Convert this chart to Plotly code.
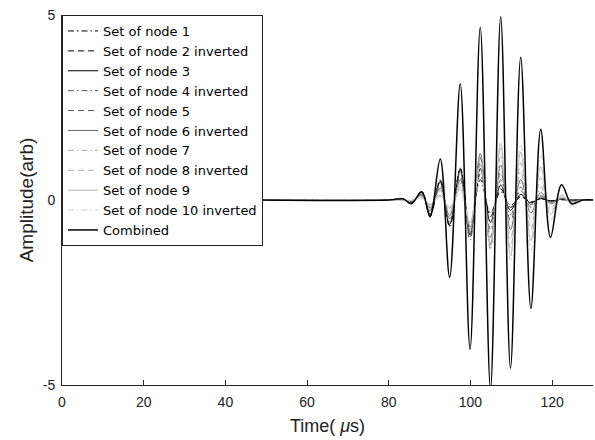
import plotly.graph_objects as go

# Time samples (extrema of the wave packets), microseconds
times = [0, 40, 80, 83.5, 85.5, 88.1, 90.1, 92.6, 94.9, 97.5, 99.9, 102.4, 104.9,
         107.4, 109.8, 112.3, 114.8, 117.2, 119.6, 122.3, 124.8, 127.5, 130]

node1 = [0, 0, 0, 0.03, -0.10, 0.23, -0.45, 0.54, -0.72, 0.86, -0.75, 0.55, -0.35, 0.22, -0.14, 0.08, -0.05, 0.03, -0.02, 0.01, 0.0, 0, 0]
node2 = [0, 0, 0, 0.03, -0.09, 0.22, -0.42, 0.52, -0.70, 0.84, -0.85, 0.70, -0.45, 0.30, -0.20, 0.10, -0.05, 0.03, -0.02, 0.01, 0.0, 0, 0]
node3 = [0, 0, 0, 0.02, -0.08, 0.20, -0.38, 0.50, -0.66, 0.80, -0.95, 0.85, -0.60, 0.40, -0.28, 0.15, -0.08, 0.05, -0.03, 0.02, -0.01, 0, 0]
node4 = [0, 0, 0, 0.02, -0.06, 0.18, -0.32, 0.45, -0.60, 0.75, -1.08, 1.00, -0.80, 0.55, -0.40, 0.25, -0.12, 0.08, -0.04, 0.02, -0.01, 0, 0]
node5 = [0, 0, 0, 0.01, -0.05, 0.15, -0.28, 0.40, -0.50, 0.65, -1.00, 1.15, -1.00, 0.75, -0.55, 0.35, -0.20, 0.12, -0.06, 0.03, -0.02, 0, 0]
node6 = [0, 0, 0, 0.01, -0.04, 0.12, -0.22, 0.32, -0.42, 0.55, -0.90, 1.26, -1.20, 0.95, -0.80, 0.55, -0.35, 0.20, -0.10, 0.05, -0.03, 0, 0]
node7 = [0, 0, 0, 0.0, -0.03, 0.10, -0.18, 0.25, -0.35, 0.45, -0.80, 1.20, -1.35, 1.20, -1.05, 0.75, -0.55, 0.35, -0.20, 0.08, -0.05, 0, 0]
node8 = [0, 0, 0, 0.0, -0.02, 0.08, -0.14, 0.18, -0.28, 0.38, -0.70, 1.10, -1.30, 1.40, -1.30, 1.00, -0.80, 0.60, -0.30, 0.10, -0.08, 0, 0]
node9 = [0, 0, 0, 0.0, -0.01, 0.06, -0.12, 0.12, -0.22, 0.30, -0.62, 0.95, -1.25, 1.53, -1.50, 1.30, -1.10, 0.90, -0.40, 0.12, -0.12, 0, 0]
node10 = [0, 0, 0, 0.0, -0.01, 0.05, -0.10, 0.08, -0.18, 0.20, -0.60, 0.80, -1.15, 1.50, -1.62, 1.50, -1.40, 1.20, -0.55, 0.15, -0.15, 0, 0]
combined = [0, 0, 0, 0.03, -0.10, 0.22, -0.45, 1.11, -2.09, 3.14, -4.04, 4.67, -5.10, 4.95, -4.55, 3.86, -2.93, 1.91, -1.01, 0.41, -0.10, 0, 0]

series_names = ["Set of node 1", "Set of node 2 inverted", "Set of node 3",
                "Set of node 4 inverted", "Set of node 5", "Set of node 6 inverted",
                "Set of node 7", "Set of node 8 inverted", "Set of node 9",
                "Set of node 10 inverted", "Combined"]
series_values = [node1, node2, node3, node4, node5, node6, node7, node8, node9, node10, combined]

x_tick_vals = [0, 20, 40, 60, 80, 100, 120]
x_tick_text = ["0", "20", "40", "60", "80", "100", "120"]
y_tick_vals = [-5, 0, 5]
y_tick_text = ["-5", "0", "5"]

DASHDOT = "6px,3px,1.5px,3px"
DASH = "6px,4px"
styles = [
    ("#000000", DASHDOT, 1.0),
    ("#000000", DASH, 1.0),
    ("#000000", "solid", 1.0),
    ("#555555", DASHDOT, 1.0),
    ("#555555", DASH, 1.0),
    ("#666666", "solid", 1.0),
    ("#aaaaaa", DASHDOT, 1.0),
    ("#aaaaaa", DASH, 1.0),
    ("#b5b5b5", "solid", 1.0),
    ("#cccccc", DASHDOT, 1.0),
    ("#000000", "solid", 1.5),
]

fig = go.Figure()
for name, vals, (col, dash, w) in zip(series_names, series_values, styles):
    fig.add_trace(go.Scatter(
        x=times, y=vals, mode="lines", name=name,
        line=dict(color=col, dash=dash, width=w, shape="spline", smoothing=1.0),
    ))

FONT = "Liberation Sans, Arial, Helvetica, sans-serif"
fig.update_layout(
    width=595, height=440,
    margin=dict(l=62, r=2, t=15, b=55),
    paper_bgcolor="white", plot_bgcolor="white",
    font=dict(family=FONT, size=14, color="#222222"),
    showlegend=True,
    legend=dict(x=0, y=1, xanchor="left", yanchor="top",
                bgcolor="white", bordercolor="#222222", borderwidth=1,
                font=dict(family="DejaVu Sans, sans-serif", size=13, color="#000000"),
                tracegroupgap=0, itemwidth=30),
    xaxis=dict(range=[0, 130], tickmode="array", tickvals=x_tick_vals, ticktext=x_tick_text,
               showline=True, linecolor="#262626", linewidth=1, mirror=False,
               ticks="inside", ticklen=5, tickcolor="#262626", ticklabelstandoff=4,
               showgrid=False, zeroline=False,
               title=dict(text="Time( <i>μ</i>s)", font=dict(size=18), standoff=10)),
    yaxis=dict(range=[-5, 5], tickmode="array", tickvals=y_tick_vals, ticktext=y_tick_text,
               showline=True, linecolor="#262626", linewidth=1, mirror=False,
               ticks="inside", ticklen=5, tickcolor="#262626", ticklabelstandoff=3,
               showgrid=False, zeroline=False,
               title=dict(text="Amplitude(arb)", font=dict(size=19), standoff=4)),
)

fig.write_html("out.html")
